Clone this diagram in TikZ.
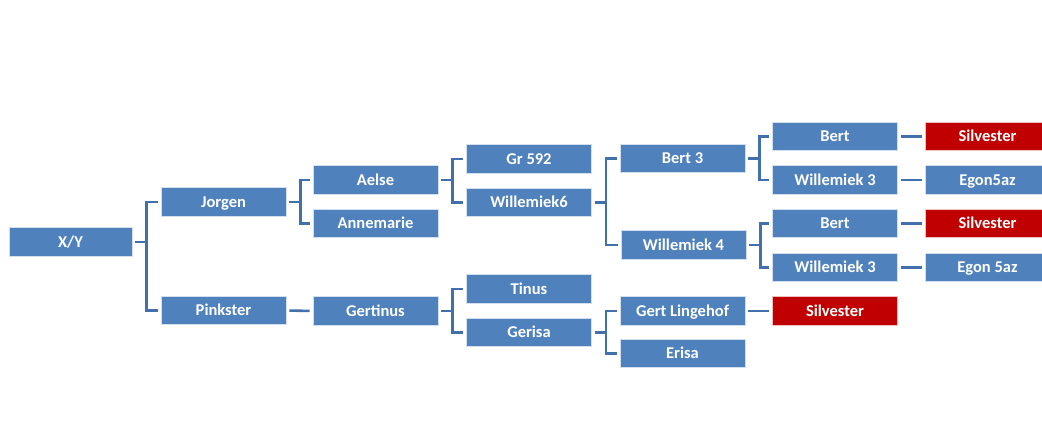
\documentclass[tikz,border=0pt]{standalone}
\usepackage{fontspec}
\setmainfont{Carlito}
\definecolor{boxblue}{RGB}{79,129,189}
\definecolor{boxred}{RGB}{192,0,0}
\definecolor{linkblue}{RGB}{66,112,172}
\tikzset{
  box/.style={rectangle, fill=boxblue, draw=white!75!boxblue, line width=0.6pt,
    minimum width=125pt, minimum height=28.5pt, inner sep=0pt,
    text height=13pt, text depth=2.4pt,
    text=white, font=\fontsize{16.5}{19}\selectfont\bfseries},
  redbox/.style={box, fill=boxred, draw=white!75!boxred},
  link/.style={draw=linkblue, line width=2.6pt, shorten <=3pt, shorten >=3pt},
}
\newcommand{\elbow}[2]{\draw[link] (#1.east) -- ++(14pt,0) |- (#2.west);}
\begin{document}
\begin{tikzpicture}[x=1pt,y=-1pt]
\useasboundingbox (0,0) rectangle (1042,441);
\clip (0,0) rectangle (1042,441);
\node[box, minimum width=123pt] (xy) at (70.5,242) {X/Y};
\node[box] (jorgen) at (223.5,202) {Jorgen};
\node[box] (pinkster) at (223.5,310.5) {Pinkster};
\node[box] (aelse) at (375.5,180) {Aelse};
\node[box] (annemarie) at (375.5,223.5) {Annemarie};
\node[box] (gertinus) at (375.5,311) {Gertinus};
\node[box] (gr) at (529,159) {Gr 592};
\node[box] (will6) at (529,202.5) {Willemiek6};
\node[box] (tinus) at (529,289) {Tinus};
\node[box] (gerisa) at (529,332.5) {Gerisa};
\node[box] (bert3) at (682.5,158.5) {Bert 3};
\node[box] (will4) at (683.5,245) {Willemiek 4};
\node[box] (gertl) at (682.5,311) {Gert Lingehof};
\node[box] (erisa) at (682.5,353.5) {Erisa};
\node[box] (berta) at (835,136.5) {Bert};
\node[box] (will3a) at (835,180) {Willemiek 3};
\node[box] (bertb) at (835,223.5) {Bert};
\node[box] (will3b) at (835,267.5) {Willemiek 3};
\node[redbox] (silvc) at (835,311) {Silvester};
\node[redbox] (silva) at (987.5,136.5) {Silvester};
\node[box] (egona) at (987.5,180) {Egon5az};
\node[redbox] (silvb) at (987.5,223.5) {Silvester};
\node[box] (egonb) at (987.5,267.5) {Egon 5az};
\elbow{xy}{jorgen}
\elbow{xy}{pinkster}
\elbow{jorgen}{aelse}
\elbow{jorgen}{annemarie}
\draw[link] (pinkster.east) -- (gertinus.west);
\elbow{aelse}{gr}
\elbow{aelse}{will6}
\elbow{gertinus}{tinus}
\elbow{gertinus}{gerisa}
\elbow{will6}{bert3}
\elbow{will6}{will4}
\elbow{gerisa}{gertl}
\elbow{gerisa}{erisa}
\elbow{bert3}{berta}
\elbow{bert3}{will3a}
\elbow{will4}{bertb}
\elbow{will4}{will3b}
\draw[link] (gertl.east) -- (silvc.west);
\draw[link] (berta.east) -- (silva.west);
\draw[link] (will3a.east) -- (egona.west);
\draw[link] (bertb.east) -- (silvb.west);
\draw[link] (will3b.east) -- (egonb.west);
\end{tikzpicture}
\end{document}
